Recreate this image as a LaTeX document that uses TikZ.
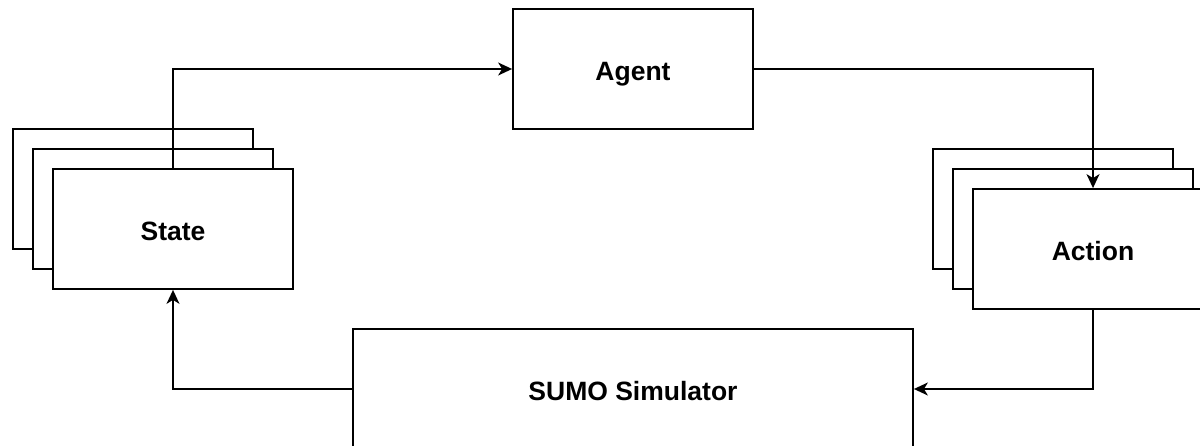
\documentclass[tikz,border=0pt]{standalone}
\usepackage{fontspec}
\setmainfont{Liberation Sans}
\usetikzlibrary{arrows.meta}
\begin{document}
\begin{tikzpicture}[x=1pt,y=-1pt,
  blk/.style={draw=black,line width=1.8pt,fill=white,minimum width=240pt,minimum height=120pt,inner sep=0pt,text height=23pt,text depth=0pt,font=\bfseries\fontsize{26.5}{30}\selectfont},
  conn/.style={line width=1.6pt,-{Stealth[length=14pt,width=13pt,inset=4pt]}}]
\useasboundingbox (0,0) rectangle (1200,446);
% State stack
\node[blk] (s3) at (133,189) {};
\node[blk] (s2) at (153,209) {};
\node[blk] (state) at (173,229) {State};
% Action stack
\node[blk] (a3) at (1053,209) {};
\node[blk] (a2) at (1073,229) {};
\node[blk] (action) at (1093,249) {Action};
% Agent
\node[blk] (agent) at (633,69) {Agent};
% SUMO
\node[blk,minimum width=560pt] (sumo) at (633,389) {SUMO Simulator};
% connectors
\draw[conn] (state.north) |- (agent.west);
\draw[conn] (agent.east) -| (action.north);
\draw[conn] (action.south) |- (sumo.east);
\draw[conn] (sumo.west) -| (state.south);
\end{tikzpicture}
\end{document}
